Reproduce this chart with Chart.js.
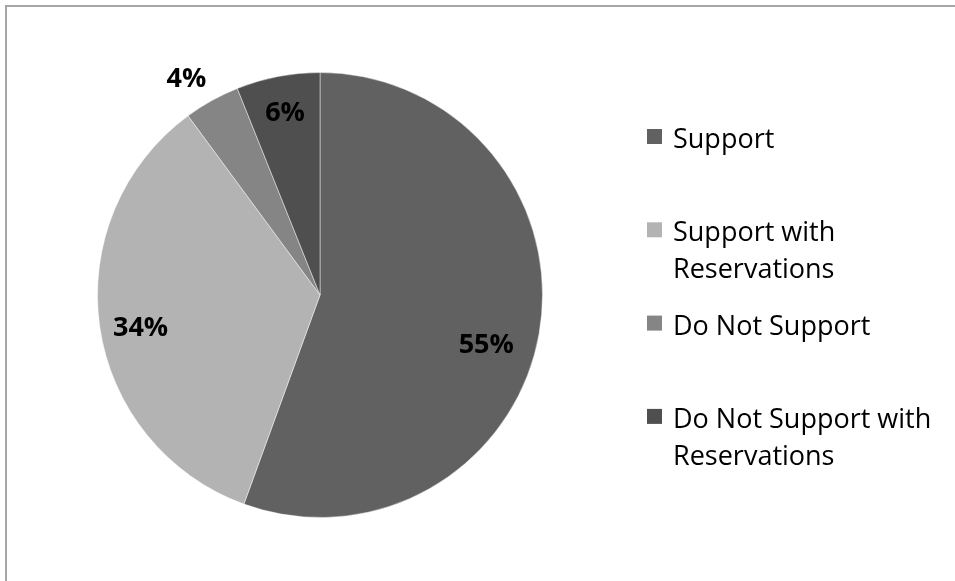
<!DOCTYPE html>
<html>
<head>
<meta charset="utf-8">
<script src="https://cdn.jsdelivr.net/npm/chart.js@4/dist/chart.umd.min.js"></script>
<style>
  html, body { margin: 0; padding: 0; background: #fff; }
  #wrap { position: relative; width: 955px; height: 581px; }
</style>
</head>
<body>
<div id="wrap"><canvas id="pieChart" width="955" height="581"></canvas></div>
<script>
// Categorias y valores (porcentajes)
const categories = ['Support', 'Support with Reservations', 'Do Not Support', 'Do Not Support with Reservations'];
const shares = [55, 34, 4, 6];
const sliceColors = ['#616161', '#b3b3b3', '#858585', '#4f4f4f'];

// posicion de cada etiqueta: fraccion del radio y desvio de angulo (grados)
const labelRadius = [0.78, 0.82, 1.14, 0.83];
const labelShift = [6.7, -2.2, -2.7, 0];

// marco gris arriba / izquierda
const framePlugin = {
    id: 'frame',
    beforeDraw(chart) {
        const ctx = chart.ctx;
        ctx.save();
        ctx.fillStyle = '#fff';
        ctx.fillRect(0, 0, chart.width, chart.height);
        ctx.strokeStyle = '#a6a6a6';
        ctx.lineWidth = 2;
        ctx.beginPath();
        ctx.moveTo(6, chart.height);
        ctx.lineTo(6, 6);
        ctx.lineTo(chart.width, 6);
        ctx.stroke();
        ctx.restore();
    }
};

// etiquetas de porcentaje sobre cada porcion
const pctLabels = {
    id: 'pctLabels',
    afterDatasetsDraw(chart) {
        const ctx = chart.ctx;
        const meta = chart.getDatasetMeta(0);
        ctx.save();
        ctx.font = 'bold 27px "Open Sans"';
        ctx.fillStyle = '#000';
        ctx.textAlign = 'center';
        ctx.textBaseline = 'middle';
        meta.data.forEach((arc, i) => {
            const p = arc.getProps(['x', 'y', 'startAngle', 'endAngle', 'outerRadius'], true);
            const mid = (p.startAngle + p.endAngle) / 2 + labelShift[i] * Math.PI / 180;
            const r = p.outerRadius * labelRadius[i];
            ctx.fillText(shares[i] + '%', p.x + Math.cos(mid) * r, p.y + Math.sin(mid) * r);
        });
        ctx.restore();
    }
};

// leyenda a la derecha con texto en varias lineas
const sideLegend = {
    id: 'sideLegend',
    afterDraw(chart) {
        const ctx = chart.ctx;
        const x = 647, firstBase = 148, step = 93.3, lineH = 37, box = 15, maxW = 278;
        ctx.save();
        ctx.font = '27px "Open Sans"';
        ctx.textBaseline = 'alphabetic';
        ctx.textAlign = 'left';
        chart.data.labels.forEach((label, i) => {
            const base = firstBase + i * step;
            ctx.fillStyle = sliceColors[i];
            ctx.fillRect(x, base - 19, box, box);
            // partir en lineas
            const words = label.split(' ');
            const lines = [];
            let cur = '';
            words.forEach(w => {
                const t = cur ? cur + ' ' + w : w;
                if (ctx.measureText(t).width > maxW && cur) {
                    lines.push(cur);
                    cur = w;
                } else {
                    cur = t;
                }
            });
            lines.push(cur);
            ctx.fillStyle = '#000';
            lines.forEach((ln, j) => ctx.fillText(ln, x + 26, base + j * lineH));
        });
        ctx.restore();
    }
};

new Chart(document.getElementById('pieChart'), {
    type: 'pie',
    data: {
        labels: categories,
        datasets: [{
            data: shares,
            backgroundColor: sliceColors,
            borderColor: 'rgba(255, 255, 255, 0.45)',
            borderWidth: 1
        }]
    },
    options: {
        responsive: false,
        animation: false,
        layout: {
            padding: { top: 72, bottom: 63, left: 97, right: 412 }
        },
        plugins: {
            legend: { display: false },
            tooltip: { enabled: false }
        }
    },
    plugins: [framePlugin, pctLabels, sideLegend]
});
</script>
</body>
</html>
